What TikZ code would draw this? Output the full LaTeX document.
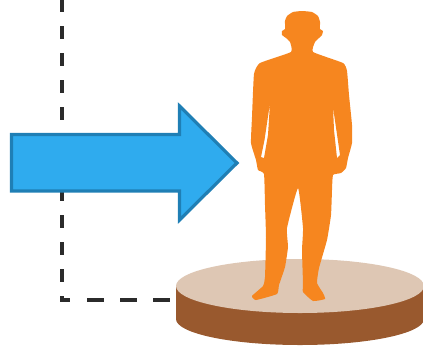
\documentclass[tikz,border=0pt]{standalone}
\usepackage{tikz}
\usetikzlibrary{calc}
\usepackage{xcolor}

\definecolor{arrowfill}{HTML}{2FABEE}
\definecolor{arrowedge}{HTML}{1F7FB5}
\definecolor{figorange}{HTML}{F6861F}
\definecolor{disctop}{HTML}{DEC7B4}
\definecolor{discside}{HTML}{99592E}
\definecolor{dashgray}{HTML}{2B2B2B}

\begin{document}
\begin{tikzpicture}[x=1pt, y=-1pt]
    \useasboundingbox (0, 0) rectangle (423, 346);

    % dashed line
    \coordinate (top) at (62, -1);
    \coordinate (corner) at (62, 300);
    \coordinate (end) at (180, 300);
    \draw[dashgray, line width=4pt, dash pattern=on 13pt off 14pt] (top) -- (corner);
    \draw[dashgray, line width=4pt, dash pattern=on 10pt off 17pt on 17pt off 16pt on 17pt off 16pt on 17pt off 16pt] (60, 300) -- (end);

    % arrow
    \draw[arrowedge, fill=arrowfill, line width=3.2pt, miter limit=10]
        (11.5, 134.5) -- (179.5, 134.5) -- (179.5, 106) -- (237, 163)
        -- (179.5, 220) -- (179.5, 191) -- (11.5, 191) -- cycle;

    % platform
    \begin{scope}
        \clip (0, 0) rectangle (423, 346);
        \fill[discside] (176, 286) -- (176, 319) arc[start angle=180, end angle=0, x radius=124, y radius=26]
            -- (424, 286) -- cycle;
        \fill[disctop] (300, 286) ellipse[x radius=124, y radius=27];
    \end{scope}

    % person
    \fill[figorange, even odd rule]
        plot[smooth cycle, tension=0.25] coordinates {
            (302, 11) (312, 12) (318, 16) (320, 22) (320, 29) (323, 31) (322, 35) (319, 38) (315, 42) (313, 52)
            (343, 63) (347, 71) (349, 95) (352, 125) (352, 143) (348, 158)
            (346, 168) (341, 173) (333, 175) (332, 190) (331, 215) (327, 240) (319, 268) (317, 283)
            (323, 293) (325, 299) (313, 301) (303, 292) (303, 283) (302, 250) (303, 228) (298, 188)
            (287, 228) (288, 247) (285, 267) (279, 285) (277, 294) (256, 300) (252, 296) (263, 286)
            (265, 277) (266, 237) (265, 205) (264, 174) (258, 170) (256, 160) (251, 143) (252, 117)
            (254, 74) (260, 63) (291, 52) (290, 42) (286, 38) (282, 35) (282, 31) (285, 29) (285, 21) (287, 16) (293, 12)
        }
        (270, 103) -- (264.5, 140) -- (261, 157) -- (264, 158) -- (268, 135) -- cycle
        (333, 107) -- (334, 130) -- (337, 158) -- (340, 155) -- cycle;
\end{tikzpicture}
\end{document}
